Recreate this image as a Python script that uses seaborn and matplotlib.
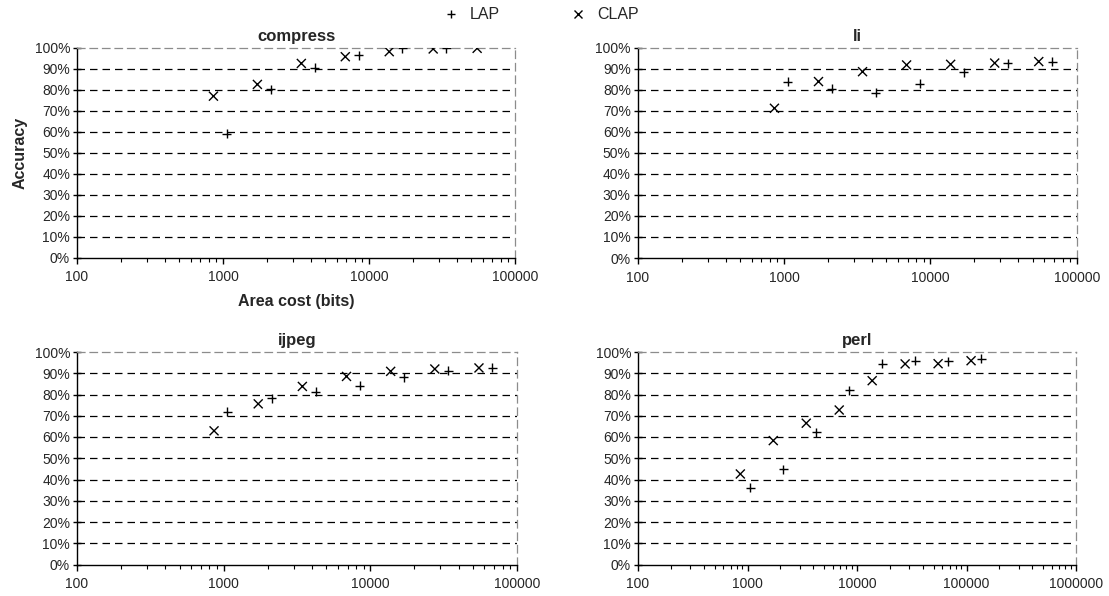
import numpy as np
import pandas as pd
import matplotlib
matplotlib.use("Agg")
import matplotlib.pyplot as plt
import seaborn as sns
from matplotlib.ticker import FixedLocator, FuncFormatter, LogLocator, NullFormatter

sns.set_theme(style="white")
plt.rcParams['font.family'] = ['Liberation Sans', 'DejaVu Sans']

# ---- data ----
benchmarks = ["compress", "li", "ijpeg", "perl"]
clap_cost = [860, 1720, 3440, 6880, 13760, 27520, 55040, 110080]
lap_cost = [1060, 2120, 4240, 8480, 16960, 33920, 67840, 135680]

compress_clap = [76.9, 82.5, 92.5, 95.7, 98.1, 99.4, 99.7]
compress_lap = [59.1, 80.1, 90.4, 96.5, 99.7, 99.7]
li_clap = [71.2, 83.9, 88.6, 91.8, 92.1, 92.7, 93.4]
li_lap = [83.9, 80.4, 78.6, 82.8, 88.3, 92.6, 93.4]
ijpeg_clap = [62.9, 75.6, 83.8, 88.5, 90.9, 92.0, 92.5]
ijpeg_lap = [72.0, 78.3, 81.4, 84.1, 88.1, 91.2, 92.5]
perl_clap = [42.6, 58.3, 66.5, 72.7, 86.5, 94.4, 94.5, 95.9]
perl_lap = [36.1, 44.8, 62.2, 82.1, 94.4, 95.9, 95.6, 96.9]

series = {
    "compress": (compress_lap, compress_clap),
    "li": (li_lap, li_clap),
    "ijpeg": (ijpeg_lap, ijpeg_clap),
    "perl": (perl_lap, perl_clap),
}
xmax = {"compress": 1e5, "li": 1e5, "ijpeg": 1e5, "perl": 1e6}
y_ticks = [0, 10, 20, 30, 40, 50, 60, 70, 80, 90, 100]

rows = []
for b in benchmarks:
    lap, clap = series[b]
    for c, v in zip(lap_cost, lap):
        rows.append((b, "LAP", c, v))
    for c, v in zip(clap_cost, clap):
        rows.append((b, "CLAP", c, v))
df = pd.DataFrame(rows, columns=["bench", "scheme", "cost", "acc"])

W, H = 1109, 596
fig = plt.figure(figsize=(W / 100, H / 100), dpi=100)

# pixel boxes: left, top, right, bottom
boxes = {
    "compress": (77, 47.7, 515, 257.5),
    "li": (637.7, 47.7, 1076.7, 258),
    "ijpeg": (77, 352, 517, 564.5),
    "perl": (638, 352, 1076, 564.5),
}

dash = (0, (6, 4))
handles = labels = None
for b in benchmarks:
    l, t, r, bt = boxes[b]
    ax = fig.add_axes([l / W, 1 - bt / H, (r - l) / W, (bt - t) / H])
    sub = df[df.bench == b]
    sns.scatterplot(data=sub, x="cost", y="acc", style="scheme",
                    style_order=["LAP", "CLAP"],
                    markers={"LAP": "+", "CLAP": "x"},
                    color="black", s=42, linewidth=1.0, ax=ax,
                    legend=(b == "compress"), zorder=3)
    if b == "compress":
        handles, labels = ax.get_legend_handles_labels()
        ax.get_legend().remove()
    ax.set_xscale("log")
    ax.set_xlim(100, xmax[b])
    ax.set_ylim(0, 100)
    ax.yaxis.set_major_locator(FixedLocator(y_ticks))
    ax.yaxis.set_major_formatter(FuncFormatter(lambda v, p: f"{int(round(v))}%"))
    ax.xaxis.set_major_locator(LogLocator(base=10))
    ax.xaxis.set_major_formatter(FuncFormatter(lambda v, p: f"{int(round(v))}"))
    ax.xaxis.set_minor_locator(LogLocator(base=10, subs=np.arange(2, 10)))
    ax.xaxis.set_minor_formatter(NullFormatter())
    for yv in y_ticks[1:-1]:
        ax.axhline(yv, color="black", lw=0.9, ls=dash, zorder=1)
    for side in ["left", "bottom"]:
        ax.spines[side].set_color("black")
        ax.spines[side].set_linewidth(1.0)
    for side in ["top", "right"]:
        ax.spines[side].set_color("#8c8c8c")
        ax.spines[side].set_linewidth(0.9)
        ax.spines[side].set_linestyle(dash)
    ax.tick_params(axis="y", which="major", direction="inout", length=6,
                   width=1, color="black", labelsize=10, pad=2, left=True)
    ax.tick_params(axis="x", which="major", direction="out", length=4,
                   width=1, color="black", labelsize=10, pad=5, bottom=True)
    ax.tick_params(axis="x", which="minor", direction="out", length=3,
                   width=0.8, color="black", bottom=True)
    ax.set_title(b, fontsize=12, fontweight="bold", pad=5)
    if b == "compress":
        ax.set_xlabel("Area cost (bits)", fontsize=11.5, fontweight="bold", labelpad=7)
        ax.set_ylabel("Accuracy", fontsize=11.5, fontweight="bold", labelpad=5)
    else:
        ax.set_xlabel("")
        ax.set_ylabel("")

fig.legend(handles, labels, loc="center", bbox_to_anchor=(0.487, 0.975),
           ncol=2, frameon=False, fontsize=11.5, columnspacing=4.3,
           handletextpad=0.6, handlelength=1.2, markerscale=0.9)

fig.savefig("out.png", dpi=100)
